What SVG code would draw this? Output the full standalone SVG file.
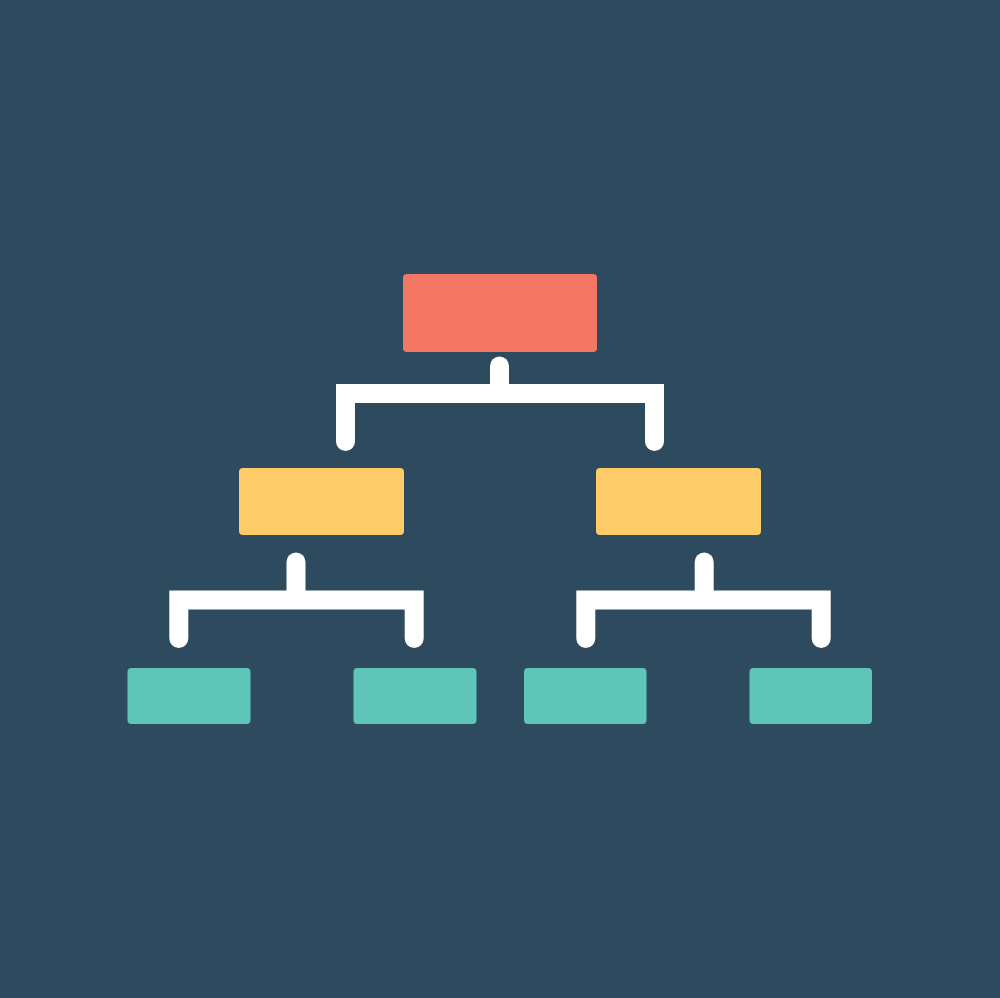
<svg xmlns="http://www.w3.org/2000/svg" width="1000" height="998" viewBox="0 0 1000 998">
  <style>
    .bg { fill: #2e4a5e; }
    .root { fill: #f37763; }
    .mid { fill: #fdcb67; }
    .leaf { fill: #5ec5b8; }
    .conn { fill: none; stroke: #ffffff; stroke-width: 19; stroke-linecap: round; stroke-linejoin: miter; }
  </style>
  <rect class="bg" x="0" y="0" width="1000" height="998"/>
  <g id="connectors">
    <path class="conn" d="M499.5 366 V390"/>
    <path class="conn" d="M345.5 441.5 V393.5 H654.5 V441.5"/>
    <path class="conn" d="M296 562 V596"/>
    <path class="conn" d="M178.8 638.5 V600 H414.2 V638.5"/>
    <path class="conn" d="M704.2 562 V596"/>
    <path class="conn" d="M585.8 638.5 V600 H821.2 V638.5"/>
  </g>
  <g id="node-root"><rect class="root" x="403" y="274" width="194" height="78" rx="4"/></g>
  <g id="node-mid-left"><rect class="mid" x="239" y="468" width="165" height="67" rx="4"/></g>
  <g id="node-mid-right"><rect class="mid" x="596" y="468" width="165" height="67" rx="4"/></g>
  <g id="node-leaf-1"><rect class="leaf" x="127.5" y="668" width="123" height="56" rx="4"/></g>
  <g id="node-leaf-2"><rect class="leaf" x="353.5" y="668" width="123" height="56" rx="4"/></g>
  <g id="node-leaf-3"><rect class="leaf" x="524" y="668" width="122.5" height="56" rx="4"/></g>
  <g id="node-leaf-4"><rect class="leaf" x="749.5" y="668" width="122.5" height="56" rx="4"/></g>
</svg>
